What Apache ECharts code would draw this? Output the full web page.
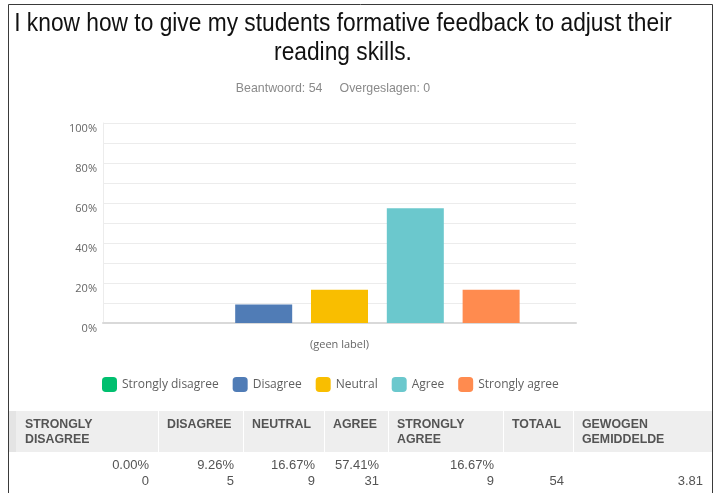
<!DOCTYPE html>
<html>
<head>
<meta charset="utf-8">
<script src="https://cdn.jsdelivr.net/npm/echarts@6/dist/echarts.min.js"></script>
<style>
  html, body { margin: 0; padding: 0; background: #fff; }
  #chart { width: 721px; height: 493px; }
</style>
</head>
<body>
<div id="chart"></div>
<script>
// Survey question results
const questionLines = ['I know how to give my students formative feedback to adjust their', 'reading skills.'];
const answeredText = 'Beantwoord: 54';
const skippedText = 'Overgeslagen: 0';
const categoryLabel = '(geen label)';

const answerNames = ['Strongly disagree', 'Disagree', 'Neutral', 'Agree', 'Strongly agree'];
const answerColors = ['#00bf6f', '#507cb6', '#f9be00', '#6bc8cd', '#ff8b4f'];
const answerPercents = [0.00, 9.26, 16.67, 57.41, 16.67];
const answerCounts = [0, 5, 9, 31, 9];
const totalCount = 54;
const weightedMean = 3.81;

const tableHeaders = [['STRONGLY', 'DISAGREE'], ['DISAGREE'], ['NEUTRAL'], ['AGREE'], ['STRONGLY', 'AGREE'], ['TOTAAL'], ['GEWOGEN', 'GEMIDDELDE']];

const yTicks = [0, 20, 40, 60, 80, 100];

const sansFont = '"Liberation Sans", Arial, sans-serif';
const humanist = '"Open Sans", "Noto Sans", sans-serif';

// Table layout: column boundaries (x) and rows
const colEdges = [16, 158, 243, 324, 388, 503, 573, 712];
const headTop = 411, headBottom = 452;
const pctRowY = 465, cntRowY = 481;

const chart = echarts.init(document.getElementById('chart'), null, { renderer: 'canvas' });

const graphics = [];
// frame around the whole panel
graphics.push({
  type: 'rect', silent: true, z: 0,
  shape: { x: 8.5, y: 4.5, width: 704, height: 500 },
  style: { fill: 'none', stroke: '#3a3a3a', lineWidth: 1 }
});
// header band
graphics.push({
  type: 'rect', silent: true, z: 1,
  shape: { x: 9, y: headTop, width: colEdges[colEdges.length - 1] - 9, height: headBottom - headTop },
  style: { fill: '#eeeeee' }
});
graphics.push({
  type: 'rect', silent: true, z: 1,
  shape: { x: 9, y: headTop, width: 7, height: headBottom - headTop },
  style: { fill: '#e4e4e4' }
});
// column separators in the header
for (let i = 1; i < colEdges.length - 1; i++) {
  graphics.push({
    type: 'line', silent: true, z: 2,
    shape: { x1: colEdges[i] + 0.5, y1: headTop, x2: colEdges[i] + 0.5, y2: headBottom },
    style: { stroke: '#ffffff', lineWidth: 1 }
  });
}
// header texts (slightly condensed)
tableHeaders.forEach((lines, i) => {
  graphics.push({
    type: 'text', silent: true, z: 3,
    x: colEdges[i] + 9, y: headTop + 6,
    scaleX: 0.95,
    style: {
      x: 0, y: 0,
      text: lines.join('\n'),
      font: 'bold 13px ' + sansFont,
      lineHeight: 15,
      fill: '#545454',
      textAlign: 'left', textVerticalAlign: 'top'
    }
  });
});
// value rows
const addCell = (col, y, txt) => {
  graphics.push({
    type: 'text', silent: true, z: 3,
    style: {
      x: colEdges[col + 1] - 9, y: y,
      text: txt,
      font: '13px ' + sansFont,
      fill: '#545454',
      textAlign: 'right', textVerticalAlign: 'middle'
    }
  });
};
answerPercents.forEach((p, i) => addCell(i, pctRowY, p.toFixed(2) + '%'));
answerCounts.forEach((c, i) => addCell(i, cntRowY, String(c)));
addCell(5, cntRowY, String(totalCount));
addCell(6, cntRowY, weightedMean.toFixed(2));

// title lines (condensed)
questionLines.forEach((line, i) => {
  graphics.push({
    type: 'text', silent: true, z: 3,
    x: 343, y: 24 + i * 29,
    scaleX: 0.91,
    style: {
      x: 0, y: 0,
      text: line,
      font: '25px ' + sansFont,
      fill: '#111111',
      textAlign: 'center', textVerticalAlign: 'middle'
    }
  });
});
graphics.push({
  type: 'text', silent: true, z: 3,
  x: 333, y: 88,
  scaleX: 0.95,
  style: {
    x: 0, y: 0,
    text: answeredText + '     ' + skippedText,
    font: '13px ' + sansFont,
    fill: '#8a8a8a',
    textAlign: 'center', textVerticalAlign: 'middle'
  }
});

const option = {
  animation: false,
  backgroundColor: '#ffffff',
  textStyle: { fontFamily: humanist },
  grid: { left: 103, top: 123, width: 473, height: 200, containLabel: false },
  legend: {
    left: 102, top: 377, padding: 0,
    itemWidth: 15, itemHeight: 15, itemGap: 14,
    icon: 'roundRect',
    textStyle: { fontFamily: humanist, fontSize: 12, color: '#5f5f5f' },
    data: answerNames
  },
  xAxis: {
    type: 'category',
    data: [categoryLabel],
    axisTick: { show: false },
    axisLine: { lineStyle: { color: '#d9d9d9', width: 2 } },
    axisLabel: { color: '#666666', fontSize: 11, fontFamily: humanist, margin: 16 }
  },
  yAxis: {
    type: 'value',
    min: 0, max: 100, interval: 10,
    axisLine: { show: true, lineStyle: { color: '#ececec', width: 1 } },
    axisTick: { show: false },
    splitLine: { lineStyle: { color: '#ececec', width: 1 } },
    axisLabel: {
      color: '#666666', fontSize: 11, fontFamily: humanist, margin: 6,
      verticalAlign: 'top', lineHeight: 12,
      formatter: v => (yTicks.indexOf(v) >= 0 ? v + '%' : '')
    }
  },
  series: answerNames.map((name, i) => ({
    name: name,
    type: 'bar',
    data: [answerPercents[i]],
    barWidth: 57,
    barGap: '33%',
    itemStyle: { color: answerColors[i] }
  })),
  graphic: graphics
};

chart.setOption(option);
</script>
</body>
</html>
